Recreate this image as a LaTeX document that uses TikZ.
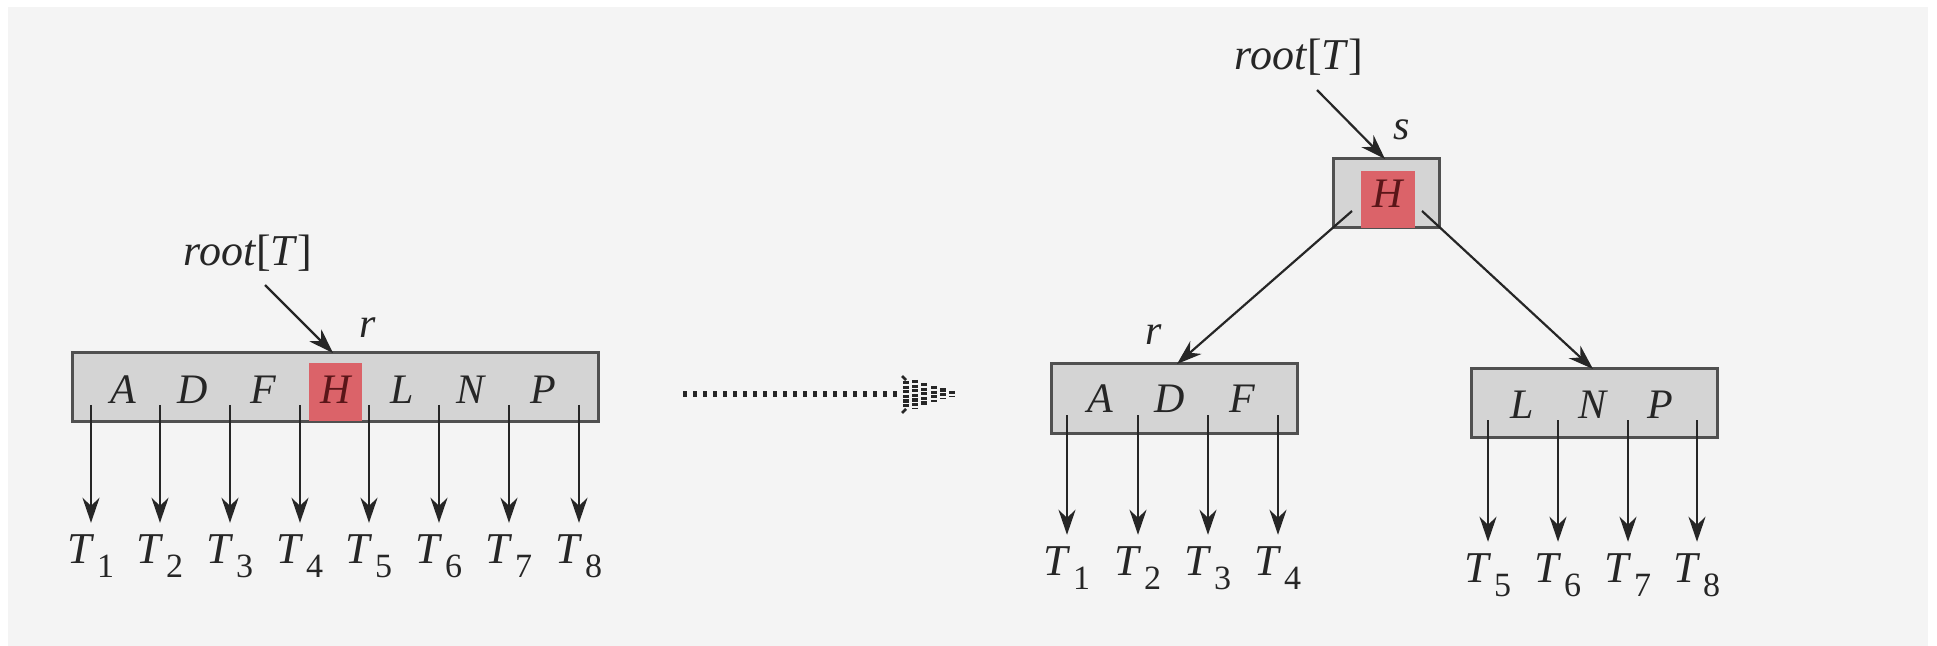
\documentclass[tikz,border=0pt]{standalone}
\usepackage{fontspec}
\setmainfont{Liberation Serif}
\usetikzlibrary{arrows.meta}
\definecolor{bg}{HTML}{F4F4F4}
\definecolor{boxfill}{HTML}{D4D4D4}
\definecolor{boxline}{HTML}{505050}
\definecolor{ink}{HTML}{262626}
\definecolor{hl}{HTML}{DB6369}
\definecolor{hltext}{HTML}{5A1518}
\newcommand{\Tlab}[1]{\textit{T}\kern1pt\raisebox{-7pt}{\fontsize{17}{17}\selectfont #1}}
\begin{document}
\begin{tikzpicture}[x=0.5pt,y=-0.5pt,
  keybox/.style={draw=boxline, fill=boxfill, line width=1.5pt, inner sep=0pt},
  hlbox/.style={fill=hl, inner sep=0pt},
  key/.style={font=\fontsize{21}{25}\selectfont\itshape, text=ink, anchor=base, inner sep=0pt},
  lab/.style={font=\fontsize{22}{26}\selectfont, text=ink, anchor=base, inner sep=0pt},
  arr/.style={draw=ink, line width=1.1pt, -{Stealth[length=12.5pt,width=8.5pt,inset=4pt]}},
  tiparr/.style={arr, shorten >=5.5pt},
  dotline/.style={draw=ink, line width=2.6pt, dash pattern=on 2.2pt off 2.8pt},
  stripe/.style={draw=ink, line width=3pt, dash pattern=on 1.6pt off 0.7pt},
  ]
\useasboundingbox (0,0) rectangle (1937,646);
\fill[white] (0,0) rectangle (1937,646);
\fill[bg] (8,7) rectangle (1928,646);

% ---------------- left: full node ----------------
\node[keybox, minimum width=263pt, minimum height=34pt] (big) at (335,387) {};
\node[hlbox, minimum width=26.5pt, minimum height=29pt] (hlL) at (335.5,392) {};
\foreach \x/\l/\n in {123/A/a,193/D/d,263/F/f,402/L/l,470/N/n,543/P/p}
  \node[key] (big\n) at (\x,403) {\l};
\node[key, text=hltext] (bigh) at (336,403) {H};
\foreach \i/\x in {1/91,2/160,3/230,4/300,5/369,6/439,7/509,8/579} {
  \coordinate (bt\i) at (\x,405);
  \node[lab] (BT\i) at (\x,563) {\Tlab{\i}};
  \draw[tiparr] (bt\i) -- (BT\i.north);
}
\node[lab] (rootL) at (248,266) {\textit{root}[\textit{T}]};
\coordinate (rootLs) at (265,285);
\coordinate (rootLe) at (333,353);
\draw[arr] (rootLs) -- (rootLe);
\node[key] (rL) at (368,338) {r};

% ---------------- middle arrow ----------------
\coordinate (ma) at (683,394);
\coordinate (mb) at (898,394);
\draw[dotline] (ma) -- (mb);
\draw[ink, line width=1.4pt] (902,376) -- (906,380);
\draw[ink, line width=1.4pt] (902,413) -- (906,409);
\foreach \x/\h in {906/13,915/14,924/11,934/8,943/5.5,952/3}
  \draw[stripe] (\x,394-\h) -- (\x,394+\h);

% ---------------- right: split ----------------
\node[keybox, minimum width=53pt, minimum height=34.5pt] (s) at (1386,193.5) {};
\node[hlbox, minimum width=27pt, minimum height=28.5pt] (hlR) at (1388,199.5) {};
\node[key, text=hltext] (sh) at (1388,208) {H};
\node[lab] (rootR) at (1299,70) {\textit{root}[\textit{T}]};
\coordinate (rootRs) at (1317,90);
\coordinate (rootRe) at (1385,159);
\draw[arr] (rootRs) -- (rootRe);
\node[key] (sL) at (1402,140) {s};

% left child
\node[keybox, minimum width=123pt, minimum height=34.5pt] (lc) at (1174,398.5) {};
\foreach \x/\l/\n in {1100/A/a,1170/D/d,1242/F/f}
  \node[key] (lc\n) at (\x,413) {\l};
\foreach \i/\x in {1/1067,2/1138,3/1208,4/1278} {
  \coordinate (lt\i) at (\x,415);
  \node[lab] (LT\i) at (\x,575) {\Tlab{\i}};
  \draw[tiparr] (lt\i) -- (LT\i.north);
}
\node[key] (rR) at (1154,345) {r};

% right child
\node[keybox, minimum width=123pt, minimum height=34pt] (rc) at (1594,403) {};
\foreach \x/\l/\n in {1522/L/l,1592/N/n,1660/P/p}
  \node[key] (rc\n) at (\x,418) {\l};
\foreach \i/\j/\x in {5/1/1488,6/2/1558,7/3/1628,8/4/1697} {
  \coordinate (rt\j) at (\x,420);
  \node[lab] (RT\j) at (\x,582) {\Tlab{\i}};
  \draw[tiparr] (rt\j) -- (RT\j.north);
}

% edges from s
\coordinate (sl) at (1352,211);
\coordinate (sr) at (1422,211);
\coordinate (lctop) at (1177,364);
\coordinate (rctop) at (1593,369);
\draw[arr] (sl) -- (lctop);
\draw[arr] (sr) -- (rctop);
\end{tikzpicture}
\end{document}
